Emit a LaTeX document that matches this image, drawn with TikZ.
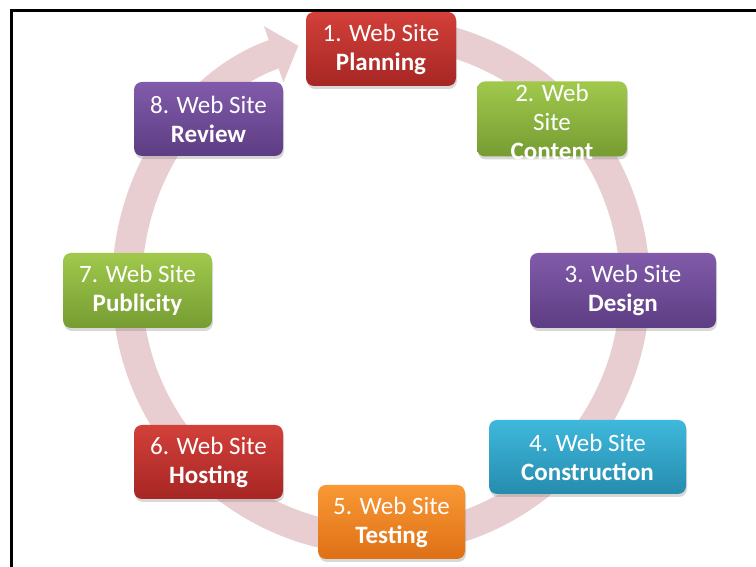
\documentclass[tikz,border=0pt]{standalone}
\usepackage{fontspec}
\setmainfont{Carlito}
\usetikzlibrary{arrows.meta,shadows}

\definecolor{ringpink}{RGB}{232,206,209}
\definecolor{redtop}{RGB}{211,64,58}
\definecolor{redbot}{RGB}{166,38,36}
\definecolor{greentop}{RGB}{160,201,76}
\definecolor{greenbot}{RGB}{118,156,50}
\definecolor{purptop}{RGB}{129,91,170}
\definecolor{purpbot}{RGB}{93,61,131}
\definecolor{cyantop}{RGB}{62,184,220}
\definecolor{cyanbot}{RGB}{38,140,174}
\definecolor{orangetop}{RGB}{249,152,52}
\definecolor{orangebot}{RGB}{222,112,22}

\tikzset{
  steptext/.style={text=white, align=center, font=\fontsize{25}{29}\selectfont},
  stepbox/.style={steptext, rounded corners=8pt, inner sep=0pt, minimum height=74pt,
    drop shadow={opacity=0.3, shadow xshift=1pt, shadow yshift=-3pt}},
  redbox/.style={top color=redtop, bottom color=redbot},
  greenbox/.style={top color=greentop, bottom color=greenbot},
  purpbox/.style={top color=purptop, bottom color=purpbot},
  cyanbox/.style={top color=cyantop, bottom color=cyanbot},
  orangebox/.style={top color=orangetop, bottom color=orangebot}
}

\begin{document}
\begin{tikzpicture}[x=1pt,y=1pt]
\useasboundingbox (0,0) rectangle (756,567);
\fill[white] (0,0) rectangle (756,567);
\draw[line width=3pt] (11,0) -- (11,556) -- (756,556); % frame, left and top only
\coordinate (mid) at (381,281);
% the cycle arrow
\draw[ringpink, line width=30pt, -{Triangle[length=26pt,width=58pt]}]
  (mid) ++(100:254) arc[start angle=100, end angle=-251, radius=254];
% the eight steps, clockwise from the top
\node[stepbox, redbox, minimum width=150pt] (plan) at (381,518) {1. Web Site\\\textbf{Planning}};
\node[stepbox, greenbox, minimum width=150pt, minimum height=75pt,
  label={[steptext, yshift=-3pt]center:{2. Web\\Site\\\textbf{Content}}}] (content) at (552,448) {};
\node[stepbox, purpbox, minimum width=186pt, minimum height=75pt] (design) at (623,276.5) {3. Web Site\\\textbf{Design}};
\node[stepbox, cyanbox, minimum width=197pt] (build) at (587.5,110) {4. Web Site\\\textbf{Construction}};
\node[stepbox, orangebox, minimum width=147pt] (test) at (391.5,45) {5. Web Site\\\textbf{Testing}};
\node[stepbox, redbox, minimum width=149pt] (host) at (208.5,105) {6. Web Site\\\textbf{Hosting}};
\node[stepbox, greenbox, minimum width=149pt, minimum height=75pt] (publicity) at (137.5,276.5) {7. Web Site\\\textbf{Publicity}};
\node[stepbox, purpbox, minimum width=149pt] (review) at (208.5,448) {8. Web Site\\\textbf{Review}};
\end{tikzpicture}
\end{document}
